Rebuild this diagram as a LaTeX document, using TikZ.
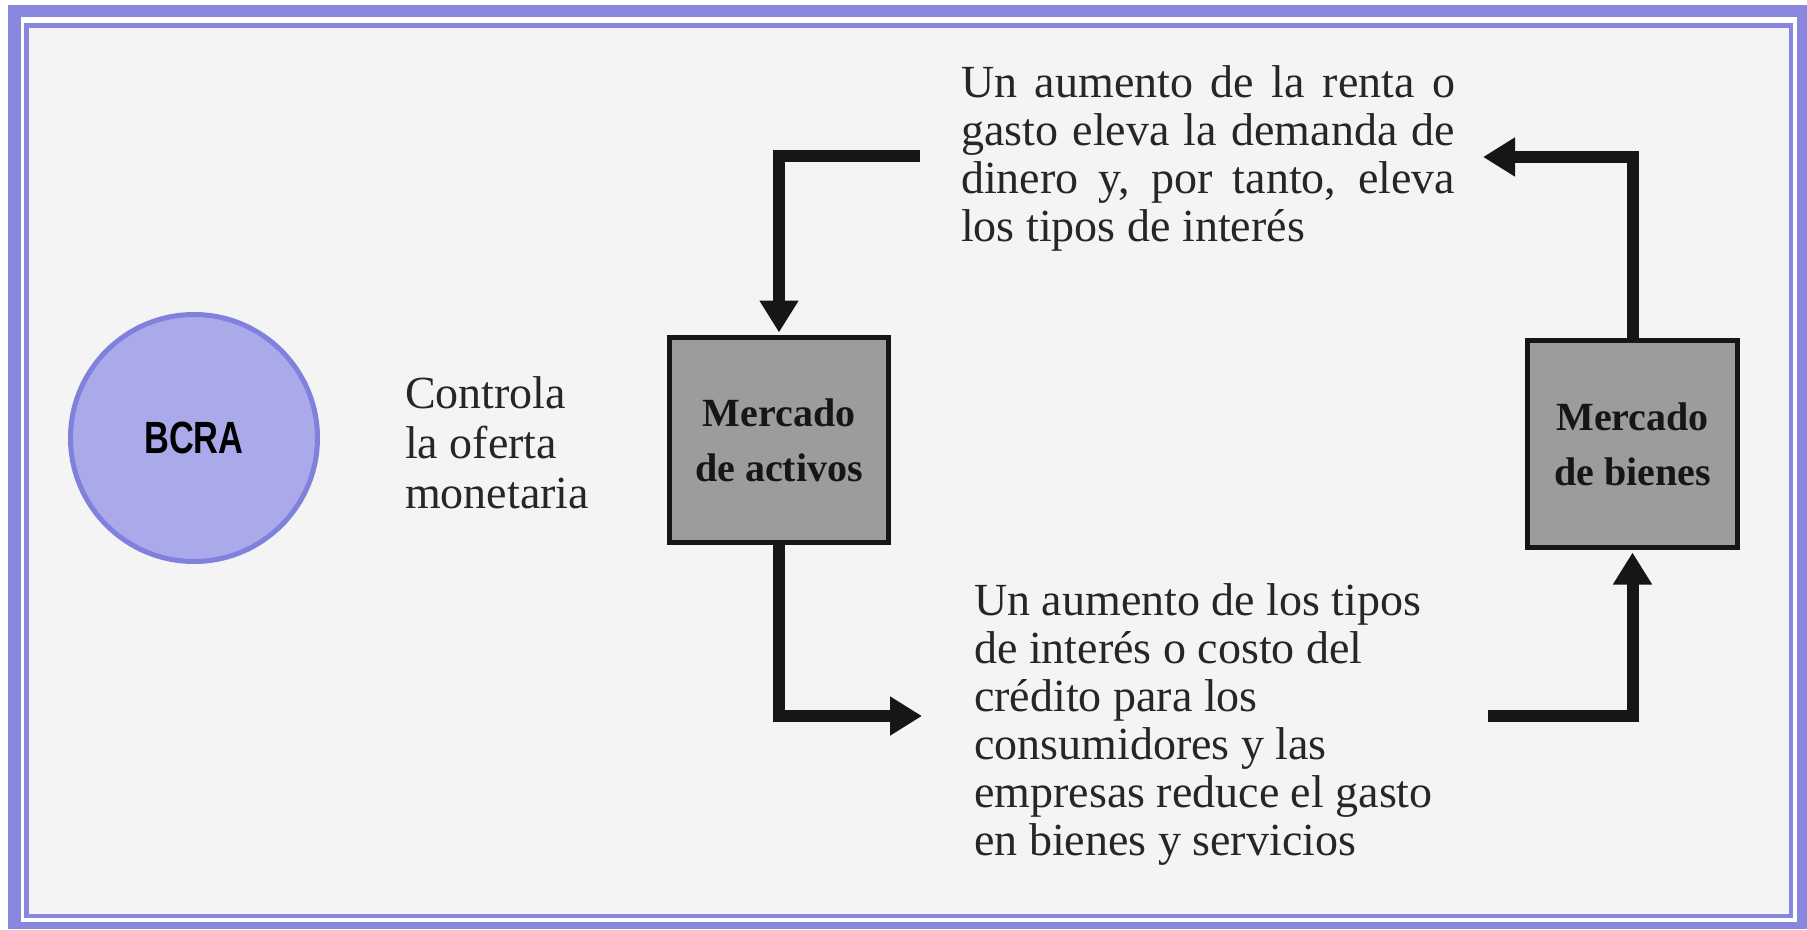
\documentclass[tikz,border=0pt]{standalone}
\usepackage{fontspec}
\usepackage{graphicx}
\setmainfont{Liberation Serif}
\newfontfamily\arialf{Liberation Sans}
\usetikzlibrary{arrows.meta}
\definecolor{lav}{HTML}{8787DD}
\definecolor{circfill}{HTML}{AAAAEB}
\definecolor{circline}{HTML}{8080DD}
\definecolor{bgc}{HTML}{F5F4F4}
\definecolor{boxg}{HTML}{9C9C9C}
\definecolor{ink}{HTML}{161616}
\definecolor{txt}{HTML}{262626}
\begin{document}
\begin{tikzpicture}[x=1pt,y=-1pt,
  conn/.style={draw=ink,line width=12pt,-{Triangle[length=32pt,width=37pt]}},
  mbox/.style={draw=ink,fill=boxg,line width=5pt,inner sep=0pt,align=center,font=\fontsize{40}{55}\selectfont\bfseries,text=ink},
  body/.style={inner sep=0pt,anchor=north west,align=left,text=txt,font=\fontsize{46}{48}\selectfont},
]
\useasboundingbox (0,0) rectangle (1807,929);
\fill[white] (0,0) rectangle (1807,929);
\fill[lav] (8,5) rectangle (1807,929);
\fill[white] (21,17) rectangle (1797,922);
\fill[lav] (24,23) rectangle (1793,918);
\fill[bgc] (28.5,27.5) rectangle (1788.5,913.5);

\node[circle,draw=circline,fill=circfill,line width=5pt,minimum size=247pt,inner sep=0pt] (bcra) at (194,438) {\scalebox{0.8}[1.05]{\fontsize{43}{43}\selectfont\arialf\bfseries BCRA}};

\node[body,font=\fontsize{46}{50}\selectfont] (ctrl) at (405,376) {Controla\\la oferta\\monetaria};

\node[mbox,minimum width=219pt,minimum height=205pt] (act) at (779,440) {Mercado\\de activos};
\node[mbox,minimum width=210pt,minimum height=207pt] (bie) at (1632.5,444) {Mercado\\de bienes};

\node[body] (ttop) at (961,65.6) {\makebox[494pt][s]{Un aumento de la renta o}\\\makebox[494pt][s]{gasto eleva la demanda de}\\\makebox[494pt][s]{dinero y, por tanto, eleva}\\los tipos de interés};

\node[body] (tbot) at (974,583) {Un aumento de los tipos\\de interés o costo del\\crédito para los\\consumidores y las\\empresas reduce el gasto\\en bienes y servicios};

\coordinate (a1) at (920,156);
\coordinate (a2) at (922,716);
\coordinate (a3) at (1488,716);
\coordinate (a4) at (1483,157);

\draw[conn,shorten >=2.5pt] (a1) -| (act.north);
\draw[conn] (act.south) |- (a2);
\draw[conn,shorten >=2.5pt] (a3) -| (bie.south);
\draw[conn] (bie.north) |- (a4);
\end{tikzpicture}
\end{document}
